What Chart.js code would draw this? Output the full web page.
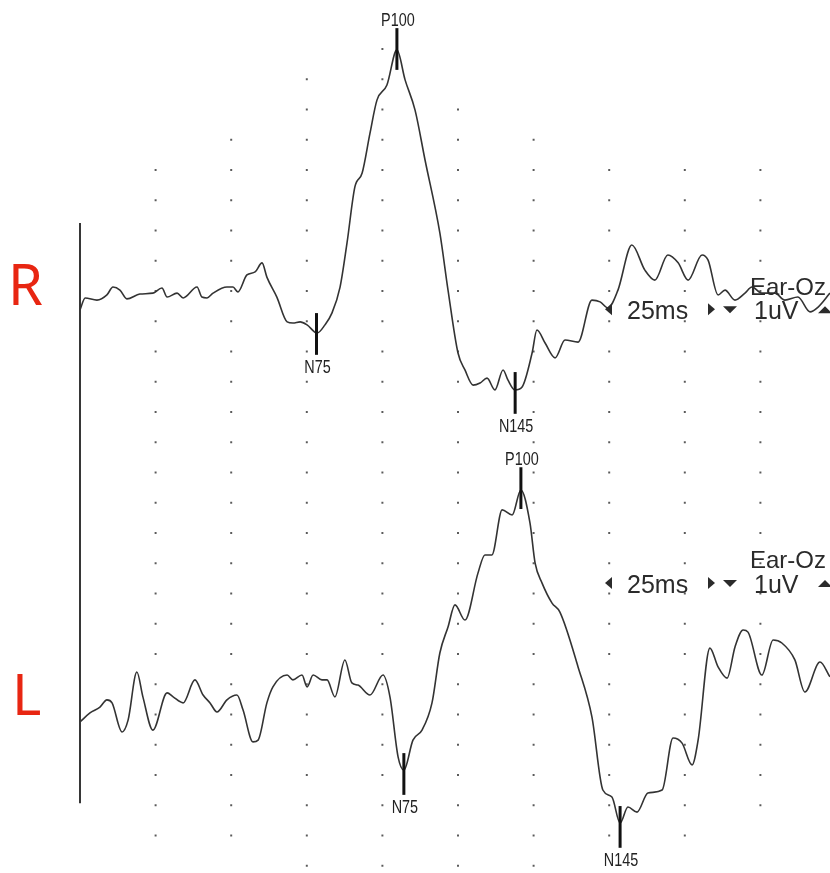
<!DOCTYPE html>
<html>
<head>
<meta charset="utf-8">
<script src="https://cdn.jsdelivr.net/npm/chart.js@4.4.1/dist/chart.umd.min.js"></script>
<style>
  html, body { margin: 0; padding: 0; background: #ffffff; }
  #c { display: block; }
</style>
</head>
<body>
<canvas id="c" width="830" height="873"></canvas>
<script>
// ---------------- DATA ----------------
// Time in ms after stimulus, amplitude in uV (1 uV per grid row)
const timeR = [0,1.7,5.6,8.9,10.9,13.2,15.5,19.8,24.1,27.1,28.8,32.1,34.1,38.7,40.3,42.0,44.0,48.6,50.6,52.2,55.2,57.9,60.2,61.8,65.1,68.5,70.4,72.8,75.1,78.4,81.0,83.3,86.0,88.3,90.9,93.3,95.9,98.2,101.5,104.8,107.5,110.8,114.1,119.0,121.7,125.0,127.3,130.0,132.3,134.6,137.2,139.9,141.5,143.8,146.2,149.5,151.1,153.8,157.1,160.4,164.7,169.3,172.0,174.6,177.9,182.5,186.8,190.1,194.4,197.8,201.1,205.7,207.7,211.0,213.3,216.6,219.9,222.2,225.5,229.8,233.1,237.4,241.4,244.1,248.0];
const ampR  = [-0.63,-0.23,-0.30,-0.13,0.13,0.03,-0.26,-0.10,-0.07,0.10,-0.20,-0.07,-0.23,0.13,-0.20,-0.23,-0.07,0.13,0.13,-0.03,0.53,0.63,0.93,0.46,-0.20,-1.02,-1.06,-1.02,-1.12,-1.39,-1.12,-0.73,0.13,1.59,3.44,3.90,5.22,6.31,6.81,7.97,6.98,5.98,4.33,1.92,0.03,-2.05,-2.61,-3.11,-3.04,-2.88,-3.27,-2.61,-2.94,-3.27,-3.17,-2.05,-1.29,-1.72,-2.21,-1.62,-1.69,-0.30,-0.36,-0.56,0.03,1.52,0.69,0.36,1.19,0.93,0.36,1.19,1.02,-0.13,0.03,-0.30,-0.07,0.13,-0.07,-0.07,-0.30,-0.20,-0.69,-0.53,-0.07];

const timeL = [0,3.3,6.6,8.9,10.6,13.9,15.9,18.8,20.8,24.1,28.8,30.8,34.1,38.0,40.7,43.0,45.3,48.6,51.9,53.9,57.2,58.9,61.8,63.8,68.5,70.4,73.4,75.1,77.1,80.0,81.7,84.3,87.6,89.9,91.9,95.9,100.2,102.5,105.2,107.1,110.1,113.1,116.4,119.0,121.7,124.0,127.3,131.6,133.9,136.2,139.6,142.9,145.8,148.8,150.5,152.8,156.1,158.7,164.7,169.3,172.9,175.9,178.6,181.2,184.2,187.8,192.5,196.1,199.1,202.4,204.4,208.3,211.0,214.0,216.6,219.3,220.9,225.5,229.2,232.1,236.4,239.7,244.7,248.0];
const ampL  = [-0.23,0.07,0.26,0.50,0.40,-0.56,-0.17,1.42,0.60,-0.50,0.73,0.60,0.40,1.16,0.66,0.40,0.10,0.50,0.66,0.17,-0.89,-0.83,0.40,0.93,1.32,1.16,1.32,0.93,1.32,1.16,1.16,0.60,1.82,1.06,0.99,0.66,1.32,0.60,-1.39,-1.82,-0.83,-0.50,0.40,2.05,2.91,3.64,3.14,4.69,5.29,5.29,6.78,6.61,7.44,6.35,5.02,4.36,3.70,3.40,1.59,-0.07,-2.48,-2.71,-3.57,-3.04,-3.21,-2.58,-2.48,-0.76,-0.93,-1.65,-0.83,2.21,1.59,1.22,2.25,2.81,2.74,1.32,2.48,2.38,1.82,0.76,1.75,1.26];

// Peak markers
const peakNamesR = ['N75', 'P100', 'N145'];
const peakTimesR = [78.2, 104.8, 143.9];
const peakAmpsR  = [-1.42, 8.0, -3.37];
const peakNamesL = ['N75', 'P100', 'N145'];
const peakTimesL = [107.1, 145.8, 178.6];
const peakAmpsL  = [-1.95, 7.5, -3.7];

// Channel labels and scale legend
const channelNames = ['R', 'L'];
const montage = 'Ear-Oz';
const timeBase = '25ms';
const sensitivity = '1uV';

// Dot grid: column times (ms) and row extents (in R-channel uV rows)
const gridTimes  = [25, 50, 75, 100, 125, 150, 175, 200, 225];
const gridTop    = [4, 5, 7, 8, 6, 5, 4, 4, 4];
const gridBottom = [-18, -18, -19, -19, -19, -19, -18, -18, -17];

// Stimulus marker (time 0), extent in R-channel units
const stimTimes = [0, 0];
const stimAmps  = [2.25, -16.93];

// ---------------- BUILD ----------------
const toXY = (t, a) => t.map((v, i) => ({ x: v, y: a[i] }));
const gridPts = [];
gridTimes.forEach((t, i) => {
  for (let r = gridTop[i]; r >= gridBottom[i]; r--) gridPts.push({ x: t, y: r });
});

const PX_PER_MS = 75.6 / 25;
const X_MIN = -80 / PX_PER_MS;
const X_MAX = X_MIN + 830 / PX_PER_MS;
const ROW = 30.25;
const SPAN = 873 / ROW;
const R_MAX = 291 / ROW, L_MAX = 715 / ROW;

const TICK_HALF = 0.69;

const annotPlugin = {
  id: 'annot',
  afterDatasetsDraw(chart) {
    const ctx = chart.ctx;
    const xs = chart.scales.x;
    const chans = [
      { y: chart.scales.yR, names: peakNamesR, times: peakTimesR, amps: peakAmpsR,
        label: channelNames[0], labelV: -0.45, montV: -0.13, barV: -0.93 },
      { y: chart.scales.yL, names: peakNamesL, times: peakTimesL, amps: peakAmpsL,
        label: channelNames[1], labelV: 0.0, montV: 4.86, barV: 4.03 }
    ];
    ctx.save();
    chans.forEach(ch => {
      // peak ticks and labels
      ch.names.forEach((name, i) => {
        const px = xs.getPixelForValue(ch.times[i]);
        const top = ch.y.getPixelForValue(ch.amps[i] + TICK_HALF);
        const bot = ch.y.getPixelForValue(ch.amps[i] - TICK_HALF);
        ctx.strokeStyle = '#111';
        ctx.lineWidth = 3;
        ctx.beginPath();
        ctx.moveTo(px, top);
        ctx.lineTo(px, bot);
        ctx.stroke();
        ctx.fillStyle = '#222';
        ctx.font = '18px "Liberation Sans", Arial, sans-serif';
        ctx.textAlign = 'center';
        ctx.textBaseline = 'alphabetic';
        const ly = name.startsWith('P') ? top - 2 : bot + 18;
        ctx.save();
        ctx.translate(px + 1, ly);
        ctx.scale(0.8, 1);
        ctx.fillText(name, 0, 0);
        ctx.restore();
      });
      // channel letter
      ctx.fillStyle = 'rgb(232,38,18)';
      ctx.font = '56px "Noto Sans", "Open Sans", sans-serif';
      ctx.textAlign = 'left';
      ctx.textBaseline = 'alphabetic';
      ctx.fillText(ch.label, ch.label === 'R' ? 8 : 12, ch.y.getPixelForValue(ch.labelV));

      // scale legend
      const by = ch.y.getPixelForValue(ch.barV);
      const my = ch.y.getPixelForValue(ch.montV);
      ctx.fillStyle = '#2b2b2b';
      ctx.font = '25px "Liberation Sans", Arial, sans-serif';
      ctx.fillText(timeBase, 627, by);
      ctx.fillText(sensitivity, 754, by);
      ctx.font = '24px "Liberation Sans", Arial, sans-serif';
      ctx.fillText(montage, 750, my);
      const cy = by - 10;
      ctx.beginPath(); // left triangle
      ctx.moveTo(605, cy); ctx.lineTo(612, cy - 6); ctx.lineTo(612, cy + 6); ctx.closePath(); ctx.fill();
      ctx.beginPath(); // right triangle
      ctx.moveTo(715, cy); ctx.lineTo(708, cy - 6); ctx.lineTo(708, cy + 6); ctx.closePath(); ctx.fill();
      ctx.beginPath(); // down triangle
      ctx.moveTo(723, cy - 3); ctx.lineTo(737, cy - 3); ctx.lineTo(730, cy + 4); ctx.closePath(); ctx.fill();
      ctx.beginPath(); // up triangle
      ctx.moveTo(818, cy + 4); ctx.lineTo(832, cy + 4); ctx.lineTo(825, cy - 3); ctx.closePath(); ctx.fill();
    });
    ctx.restore();
  }
};

new Chart(document.getElementById('c'), {
  type: 'scatter',
  data: {
    datasets: [
      { label: 'R', data: toXY(timeR, ampR), yAxisID: 'yR', showLine: true,
        borderColor: '#333333', borderWidth: 1.6, pointRadius: 0, pointHoverRadius: 0, pointHitRadius: 0,
        cubicInterpolationMode: 'monotone', order: 0 },
      { label: 'L', data: toXY(timeL, ampL), yAxisID: 'yL', showLine: true,
        borderColor: '#333333', borderWidth: 1.6, pointRadius: 0, pointHoverRadius: 0, pointHitRadius: 0,
        cubicInterpolationMode: 'monotone', order: 0 },
      { label: 'stim', data: toXY(stimTimes, stimAmps), yAxisID: 'yR', showLine: true,
        borderColor: '#222222', borderWidth: 1.8, pointRadius: 0, pointHoverRadius: 0, pointHitRadius: 0, order: 1 },
      { label: 'grid', data: gridPts, yAxisID: 'yR', showLine: false,
        pointStyle: 'rect', pointRadius: 1.4, pointBorderWidth: 0, pointHoverRadius: 0, pointHitRadius: 0,
        pointBackgroundColor: '#5a5a5a', backgroundColor: '#5a5a5a', borderColor: '#5a5a5a', order: 2 }
    ]
  },
  options: {
    responsive: false,
    devicePixelRatio: 1,
    animation: false,
    layout: { padding: 0, autoPadding: false },
    plugins: { legend: { display: false }, tooltip: { enabled: false } },
    events: [],
    scales: {
      x:  { type: 'linear', min: X_MIN, max: X_MAX, display: false },
      yR: { type: 'linear', min: R_MAX - SPAN, max: R_MAX, display: false },
      yL: { type: 'linear', min: L_MAX - SPAN, max: L_MAX, display: false }
    }
  },
  plugins: [annotPlugin]
});
</script>
</body>
</html>
